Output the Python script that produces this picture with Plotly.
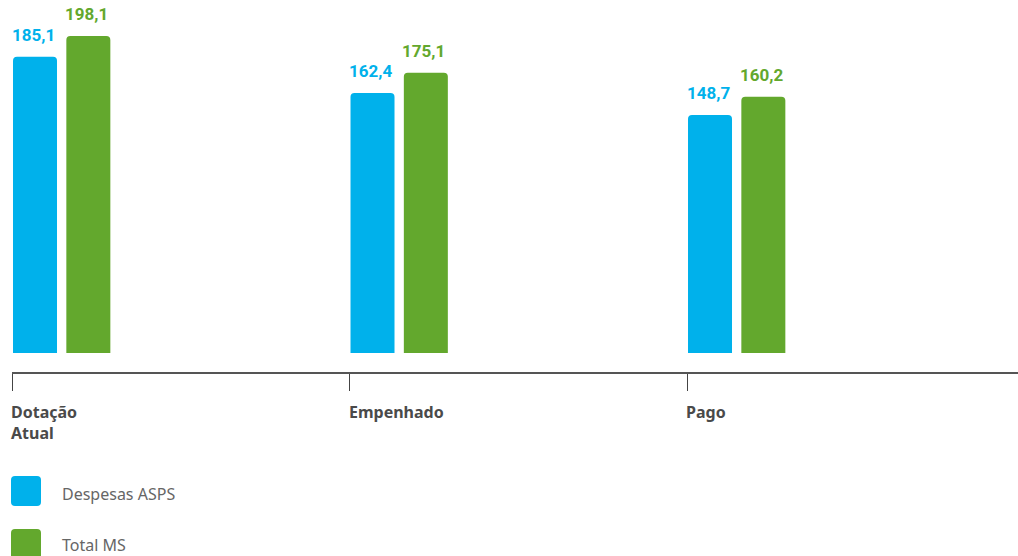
import plotly.graph_objects as go

categories = ["Dotação<br>Atual", "Empenhado", "Pago"]
despesas_asps = [185.1, 162.4, 148.7]
total_ms = [198.1, 175.1, 160.2]
series_names = ["Despesas ASPS", "Total MS"]

BLUE = "#00B1EB"
GREEN = "#63A82D"
W, H = 1018, 556
L, T, B = 12, 0, 184
PW, PH = W - L, H - T - B
CAT_PX = 337.5            # pixel width of one category band
BAR_W = 44 / CAT_PX
OFFSETS = [0.003, 0.161]


def px_x(x):
    return (x - L) / PW


def px_y(y):
    return (PH + T - y) / PH


def rounded_rect(x0, y0, x1, y1, r=4):
    # pixel box -> paper path with rounded corners
    rx, ry = r / PW, r / PH
    a, b = px_x(x0), px_x(x1)
    top, bot = px_y(y0), px_y(y1)
    return (f"M{a+rx},{bot} L{b-rx},{bot} Q{b},{bot} {b},{bot+ry} "
            f"L{b},{top-ry} Q{b},{top} {b-rx},{top} L{a+rx},{top} "
            f"Q{a},{top} {a},{top-ry} L{a},{bot+ry} Q{a},{bot} {a+rx},{bot} Z")


xs = list(range(len(categories)))
fig = go.Figure()
annotations = []
for values, name, color, off in zip([despesas_asps, total_ms], series_names,
                                    [BLUE, GREEN], OFFSETS):
    fig.add_trace(go.Bar(x=xs, y=values, name=name, width=BAR_W, offset=off,
                         marker=dict(color=color, cornerradius=4, line_width=0),
                         showlegend=False, hoverinfo="skip"))
    for x, v in zip(xs, values):
        annotations.append(dict(
            x=x + off + BAR_W / 2, y=v, xref="x", yref="y",
            text=f"{v:.1f}".replace(".", ","), showarrow=False,
            yanchor="bottom", yshift=10, xshift=-2,
            font=dict(family="Roboto", size=17, color=color, weight="bold")))

for x, cat in zip(xs, categories):
    annotations.append(dict(
        x=x, y=px_y(399), xref="x", yref="paper", text=cat, showarrow=False,
        xanchor="left", yanchor="top", align="left", xshift=-3,
        font=dict(family="Noto Sans", size=16, color="#4a4a4a", weight="bold")))

shapes = []
for i, (name, color) in enumerate(zip(series_names, [BLUE, GREEN])):
    y0 = 476 + i * 53
    shapes.append(dict(type="path", xref="paper", yref="paper",
                       path=rounded_rect(11, y0, 41, y0 + 30), fillcolor=color,
                       line=dict(width=0)))
    annotations.append(dict(
        x=px_x(60), y=px_y(y0 + 18 - 2 * i), xref="paper", yref="paper", text=name,
        showarrow=False, xanchor="left", yanchor="middle",
        font=dict(family="Noto Sans", size=16, color="#666666")))

fig.update_layout(
    width=W, height=H,
    margin=dict(l=L, r=0, t=T, b=B),
    plot_bgcolor="white", paper_bgcolor="white",
    barmode="overlay",
    annotations=annotations, shapes=shapes,
    xaxis=dict(range=[0, PW / CAT_PX], tickvals=xs, showticklabels=False,
               ticks="outside", ticklen=17, tickcolor="#444", tickwidth=1,
               showline=True, linecolor="#555", linewidth=1.5,
               showgrid=False, zeroline=False, fixedrange=True),
    yaxis=dict(range=[-11.9, 220.6], visible=False, fixedrange=True),
)

# drop the browser's default body margin so the figure sits at the page corner
fig.write_html("out.html", config={"displayModeBar": False},
               post_script="document.body.style.margin='0';")
